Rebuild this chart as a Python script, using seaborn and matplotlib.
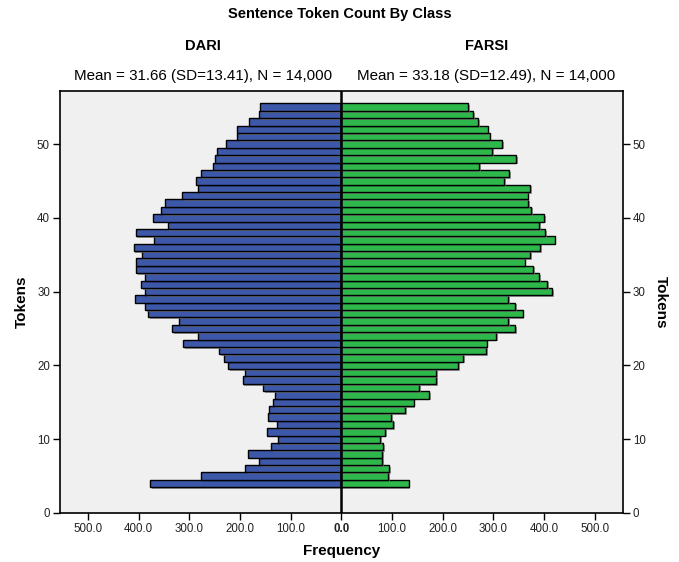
import numpy as np
import pandas as pd
import matplotlib
matplotlib.use("Agg")
import matplotlib.pyplot as plt
import matplotlib.patheffects as pe
from matplotlib.ticker import FixedLocator, FuncFormatter
import seaborn as sns

# Token counts per sentence (4..55) and their frequencies for each class
tokens = list(range(4, 56))
dari = [377, 278, 190, 162, 184, 138, 125, 147, 127, 145, 142, 135, 131, 154,
        195, 190, 224, 232, 241, 312, 282, 334, 320, 381, 387, 407, 387, 395,
        387, 405, 405, 394, 410, 370, 406, 343, 372, 356, 348, 315, 283, 287,
        278, 254, 249, 245, 228, 205, 205, 182, 163, 161]
farsi = [133, 93, 95, 80, 80, 83, 77, 87, 102, 99, 126, 143, 173, 153,
         187, 187, 230, 240, 286, 287, 306, 343, 329, 358, 343, 329, 416, 406,
         391, 379, 362, 373, 393, 421, 403, 390, 400, 375, 369, 368, 373, 321,
         331, 272, 345, 298, 317, 293, 289, 270, 260, 251]
groups = ["DARI", "FARSI"]
stats = ["Mean = 31.66 (SD=13.41), N = 14,000",
         "Mean = 33.18 (SD=12.49), N = 14,000"]
x_ticks = [-500, -400, -300, -200, -100, 0, 100, 200, 300, 400, 500]
y_ticks = [0, 10, 20, 30, 40, 50]

df = pd.DataFrame({"Tokens": tokens,
                   "DARI": -np.array(dari),
                   "FARSI": np.array(farsi)})

sns.set_theme(style="white")
plt.rcParams["font.family"] = ["Liberation Sans", "DejaVu Sans"]
plt.rcParams["text.color"] = "black"
plt.rcParams["axes.labelcolor"] = "black"

BLUE = "#3d58a9"
GREEN = "#2eb84b"
BG = "#f0f0f0"

fig = plt.figure(figsize=(6.79, 5.62), dpi=100)
ax = fig.add_axes([0.0879, 0.0872, 0.8296, 0.751])
ax.set_facecolor(BG)

for col, color in ((groups[0], BLUE), (groups[1], GREEN)):
    sns.barplot(data=df, x=col, y="Tokens", orient="y", native_scale=True,
                width=1.0, color=color, saturation=1, edgecolor="black",
                linewidth=1.0, errorbar=None, ax=ax)

shadow = [pe.SimplePatchShadow(offset=(1.2, -1.2), shadow_rgbFace="#777777",
                               alpha=0.7), pe.Normal()]
for p in ax.patches:
    p.set_path_effects(shadow)

ax.axvline(0, color="black", lw=1.8, zorder=5)
ax.set_xlim(-556, 556)
ax.set_ylim(0, 57.2)

ax.xaxis.set_major_locator(FixedLocator(x_ticks))
ax.xaxis.set_major_formatter(FuncFormatter(lambda v, _: f"{abs(v):.1f}"))
ax.yaxis.set_major_locator(FixedLocator(y_ticks))
ax.tick_params(axis="both", direction="out", length=5, width=1,
               color="black", labelsize=8.3, labelcolor="#222222", pad=2,
               bottom=True, left=True)
for lbl in ax.get_xticklabels():
    if lbl.get_text() == "0.0":
        lbl.set_fontweight("bold")

for s in ax.spines.values():
    s.set_color("black")
    s.set_linewidth(1.2)

ax.set_xlabel("Frequency", fontsize=11, fontweight="bold", labelpad=7)
ax.set_ylabel("Tokens", fontsize=11, fontweight="bold", labelpad=6)

ax2 = ax.twinx()
ax2.set_ylim(ax.get_ylim())
ax2.yaxis.set_major_locator(FixedLocator(y_ticks))
ax2.tick_params(axis="y", direction="out", length=5, width=1, color="black",
                labelsize=8.3, labelcolor="#222222", pad=2, right=True)
ax2.set_ylabel("Tokens", fontsize=11, fontweight="bold", rotation=270,
               labelpad=16)
for s in ax2.spines.values():
    s.set_visible(False)

fig.text(0.5, 0.975, "Sentence Token Count By Class", ha="center",
         va="center", fontsize=10.5, fontweight="bold")
for cx, name, st in ((0.299, groups[0], stats[0]),
                     (0.716, groups[1], stats[1])):
    fig.text(cx, 0.918, name, ha="center", va="center", fontsize=10.5,
             fontweight="bold")
    fig.text(cx, 0.864, st, ha="center", va="center", fontsize=10.9)

fig.savefig("out.png", dpi=100)
